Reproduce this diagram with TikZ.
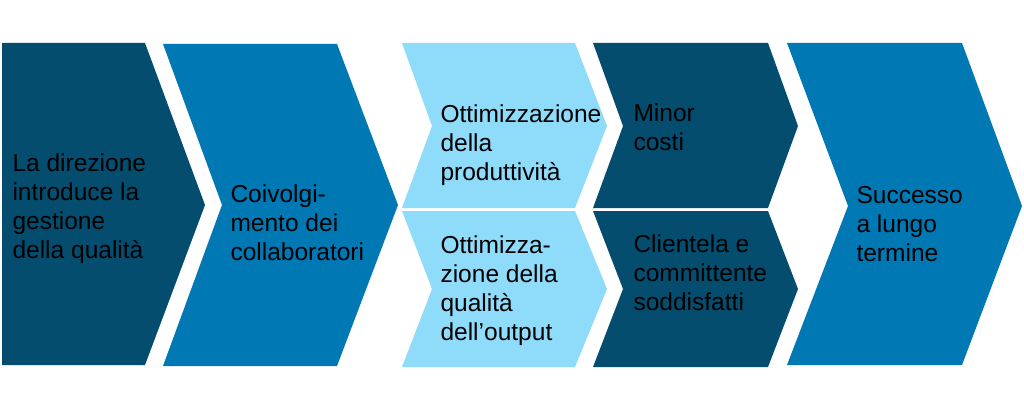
\documentclass[tikz,border=0pt]{standalone}
\usepackage{fontspec}
\setmainfont{Liberation Sans}
\definecolor{dunkel}{RGB}{4,77,110}
\definecolor{mittel}{RGB}{0,120,180}
\definecolor{hell}{RGB}{143,219,250}
\tikzset{every picture/.style={line width=0.75pt}}
\tikzset{stufe/.style={draw=none},
  stufentext/.style={anchor=base west,inner sep=0pt,align=left,font=\fontsize{18.4}{21.6}\selectfont,text=black}}

\begin{document}
\begin{tikzpicture}[x=0.75pt,y=0.75pt,yscale=-1,xscale=1]
\useasboundingbox (0,0) rectangle (1024,410);

%Shape: Chevron [id:direzione]
\draw [stufe,fill=dunkel] (2,43) -- (145,43) -- (205,205) -- (145,365) -- (2,365) -- cycle ;
%Shape: Chevron [id:coinvolgimento]
\draw [stufe,fill=mittel] (163,44) -- (337,44) -- (398,205) -- (337,366) -- (163,366) -- (222,205) -- cycle ;
%Shape: Chevron [id:produttivita]
\draw [stufe,fill=hell] (402,43) -- (575,43) -- (607,126) -- (575,208) -- (402,208) -- (432,126) -- cycle ;
%Shape: Chevron [id:qualita]
\draw [stufe,fill=hell] (402,211) -- (575,211) -- (607,289) -- (575,367) -- (402,367) -- (432,289) -- cycle ;
%Shape: Chevron [id:costi]
\draw [stufe,fill=dunkel] (593,43) -- (768,43) -- (798,126) -- (768,208) -- (593,208) -- (623,126) -- cycle ;
%Shape: Chevron [id:clientela]
\draw [stufe,fill=dunkel] (593,211) -- (768,211) -- (798,289) -- (768,367) -- (593,367) -- (623,289) -- cycle ;
%Shape: Chevron [id:successo]
\draw [stufe,fill=mittel] (787,43) -- (962,43) -- (1022,206) -- (962,365) -- (787,365) -- (848,206) -- cycle ;

% Text Node (base = last line)
\node [stufentext] (t1) at (12,258) {La direzione\\introduce la\\gestione\\della qualità};
% Text Node
\node [stufentext] (t2) at (230,260) {Coivolgi-\\mento dei\\collaboratori};
% Text Node
\node [stufentext] (t3) at (440,180) {Ottimizzazione\\della\\produttività};
% Text Node
\node [stufentext] (t4) at (440,340) {Ottimizza-\\zione della\\qualità\\dell’output};
% Text Node
\node [stufentext] (t5) at (633,150) {Minor\\costi};
% Text Node
\node [stufentext] (t6) at (633,310) {Clientela e\\committente\\soddisfatti};
% Text Node
\node [stufentext] (t7) at (856,261) {Successo\\a lungo\\termine};

\end{tikzpicture}
\end{document}
